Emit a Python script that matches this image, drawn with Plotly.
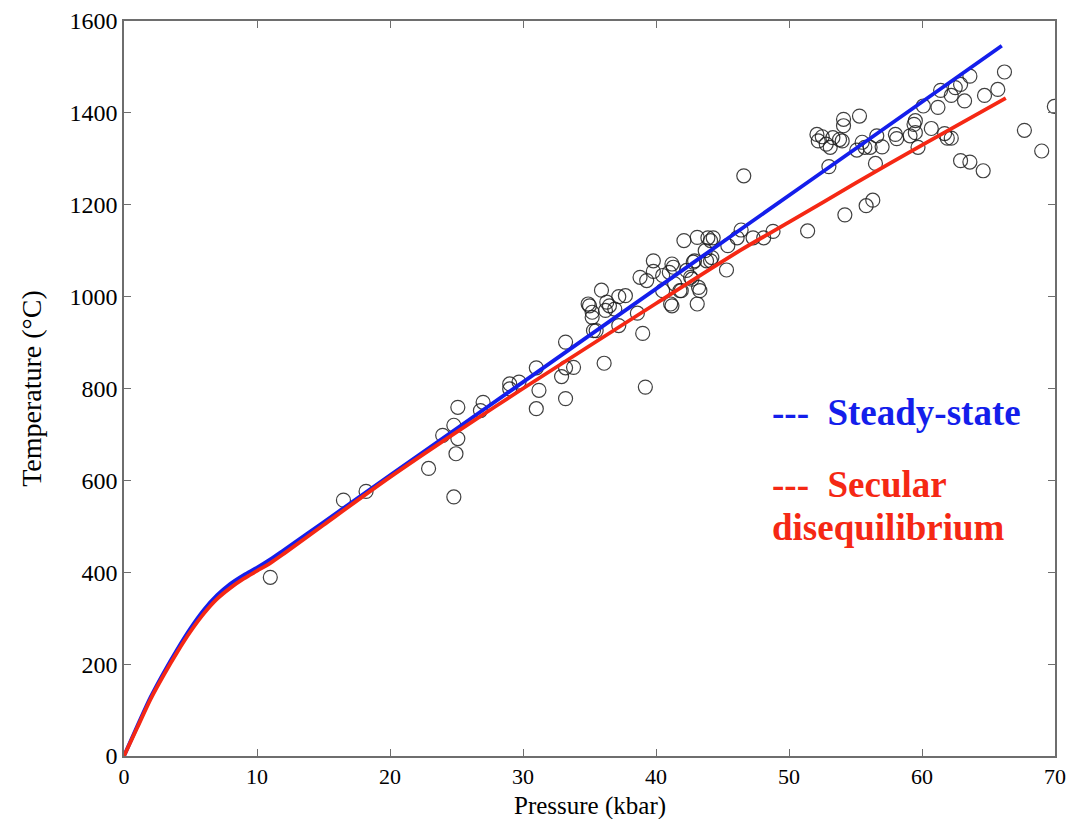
import plotly.graph_objects as go

# Model curves (pressure kbar, temperature °C)
steady_p = [0, 1, 2, 3, 4, 5, 6, 7, 8, 9, 10, 11, 12, 15, 20, 30, 40, 46.3, 55, 66]
steady_t = [0, 65, 128, 182, 232, 278, 318, 350, 375, 394, 410, 428, 448, 509, 611, 814, 1017, 1145, 1322, 1546]

secular_p = [0, 1, 2, 3, 4, 5, 6, 7, 8, 9, 10, 11, 12, 15, 20, 25, 30, 40, 46.3, 50, 55, 60, 66.3]
secular_t = [0, 62, 124, 177, 226, 271, 310, 342, 366, 386, 403, 420, 440, 503, 607, 705, 800, 985, 1100, 1162, 1247, 1330, 1432]

# Observed P-T data points
obs_p = [11.0, 16.5, 18.2, 22.9, 23.96, 24.8, 25.1, 25.1, 24.96, 24.8, 27.0, 26.8,
         29.0, 29.7, 29.0, 31.0, 31.2, 31.0, 33.2, 32.9, 33.2, 33.8, 33.2, 36.1, 39.2, 39.0,
         35.3, 35.5, 35.0, 35.2, 35.2, 34.9, 35.9, 36.3, 36.5, 36.2, 37.2, 37.7, 36.9, 37.2, 38.6,
         39.8, 38.8, 39.3, 39.8, 40.5, 41.2, 41.0, 41.4, 40.5, 41.8, 41.1, 41.2, 41.9, 42.7,
         43.3, 43.1, 42.8, 43.8, 44.2, 45.3,
         46.6, 51.4, 48.8, 48.1, 47.3, 46.4, 46.1, 45.4, 44.3, 43.9, 44.1, 43.1, 42.1, 44.1,
         43.2, 43.7, 42.9, 41.3, 42.3, 42.6,
         69.95, 67.7, 69.0, 66.2, 65.7, 64.7, 63.6, 62.9, 62.5, 62.2, 61.4, 63.2, 61.2, 60.1,
         60.7, 59.5, 59.4, 61.7, 61.9, 62.2, 62.9, 63.6, 64.6, 59.7, 59.1, 59.5, 58.1, 58.0,
         57.0, 56.6, 56.5, 56.1, 55.7, 55.5, 55.1, 55.3, 54.1, 54.1, 54.0, 53.8, 53.3, 53.1,
         52.1, 52.2, 52.8, 52.5, 53.0, 54.2, 55.8, 56.3]
obs_t = [389, 557, 576, 626, 698, 720, 759, 691, 658, 564, 770, 752,
         810, 814, 799, 845, 796, 756, 778, 826, 845, 846, 901, 855, 803, 920,
         926, 926, 980, 955, 966, 984, 1014, 988, 980, 970, 1000, 1002, 973, 937, 964,
         1078, 1042, 1035, 1055, 1046, 1071, 1053, 1028, 1013, 1013, 984, 980, 1013, 1038,
         1013, 984, 1075, 1078, 1085, 1058,
         1263, 1143, 1142, 1128, 1128, 1145, 1128, 1111, 1128, 1128, 1122, 1129, 1122, 1078,
         1020, 1100, 1078, 1064, 1057, 1042,
         1414, 1362, 1317, 1489, 1451, 1438, 1480, 1462, 1455, 1438, 1449, 1426, 1412, 1415,
         1366, 1383, 1375, 1355, 1345, 1345, 1296, 1293, 1274, 1325, 1350, 1357, 1344, 1353,
         1326, 1350, 1290, 1325, 1325, 1336, 1319, 1393, 1386, 1372, 1339, 1342, 1346, 1325,
         1353, 1339, 1332, 1348, 1283, 1178, 1198, 1210]

x_ticks = [0, 10, 20, 30, 40, 50, 60, 70]
y_ticks = [0, 200, 400, 600, 800, 1000, 1200, 1400, 1600]

BLUE = "rgb(20,30,235)"
RED = "rgb(245,40,20)"
SERIF = "Liberation Serif"

fig = go.Figure()
fig.add_trace(go.Scatter(x=obs_p, y=obs_t, mode="markers",
                         marker=dict(symbol="circle-open", size=14, color="rgba(30,30,30,0.85)",
                                     line=dict(width=1.2)),
                         showlegend=False))
fig.add_trace(go.Scatter(x=steady_p, y=steady_t, mode="lines",
                         line=dict(color=BLUE, width=3.8, shape="spline", smoothing=0.8),
                         showlegend=False))
fig.add_trace(go.Scatter(x=secular_p, y=secular_t, mode="lines",
                         line=dict(color=RED, width=3.8, shape="spline", smoothing=0.8),
                         showlegend=False))

ann_font = dict(family=SERIF, size=37)
fig.add_annotation(x=48.6, y=748, xref="x", yref="y", xanchor="left", yanchor="middle",
                   text="<b>---\u00a0\u00a0Steady-state</b>", showarrow=False,
                   font=dict(color=BLUE, **ann_font))
fig.add_annotation(x=48.6, y=590, xref="x", yref="y", xanchor="left", yanchor="middle",
                   text="<b>---\u00a0\u00a0Secular</b>", showarrow=False,
                   font=dict(color=RED, **ann_font))
fig.add_annotation(x=48.6, y=498, xref="x", yref="y", xanchor="left", yanchor="middle",
                   text="<b>disequilibrium</b>", showarrow=False,
                   font=dict(color=RED, **ann_font))

# x-axis title placed as annotation just below tick labels
fig.add_annotation(x=0.5, y=-0.068, xref="paper", yref="paper", xanchor="center", yanchor="middle",
                   text="Pressure (kbar)", showarrow=False, borderpad=0,
                   font=dict(family=SERIF, size=25, color="black"))

axis_common = dict(showline=True, linecolor="#6e6e6e", linewidth=1.5, mirror="ticks",
                   ticks="inside", ticklen=7, tickcolor="#6e6e6e", tickwidth=1.2,
                   showgrid=False, zeroline=False, automargin=False)
fig.update_xaxes(range=[0, 70], tickvals=x_ticks, ticktext=[str(v) for v in x_ticks],
                 tickfont=dict(family=SERIF, size=22, color="black"),
                 **axis_common)
fig.update_yaxes(range=[0, 1600], tickvals=y_ticks, ticktext=[str(v) for v in y_ticks],
                 tickfont=dict(family=SERIF, size=24, color="black"),
                 title=dict(text="Temperature (°C)", font=dict(family=SERIF, size=28, color="black"), standoff=20),
                 **axis_common)
fig.update_layout(width=1071, height=819, margin=dict(l=124, r=16, t=21, b=63),
                  plot_bgcolor="white", paper_bgcolor="white")

fig.write_html("out.html")
